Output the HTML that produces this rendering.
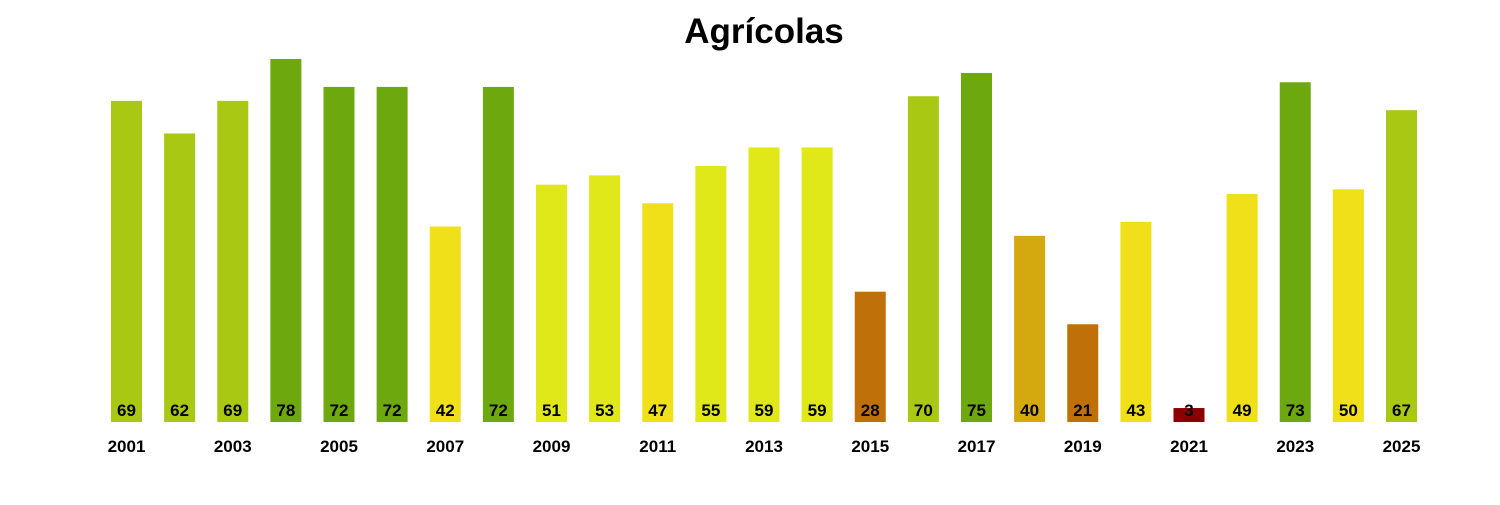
<!DOCTYPE html><html><head><style>body{margin:0;background:#fff}</style></head><body>
<svg width="1500" height="500" xmlns="http://www.w3.org/2000/svg" font-family="Liberation Sans, Arial, sans-serif" font-weight="bold">
<rect width="1500" height="500" fill="#fff"/>
<text x="764" y="43" font-size="35" text-anchor="middle">Agrícolas</text>
<g id="b"></g>
</svg>
<script>
var v=[69,62,69,78,72,72,42,72,51,53,47,55,59,59,28,70,75,40,21,43,3,49,73,50,67];
function col(x){if(x>=72)return"#6ea80f";if(x>=60)return"#a8c814";if(x>=51)return"#e0e81a";if(x>=41)return"#f0e01a";if(x>=35)return"#d4a80f";if(x>=10)return"#c07008";return"#8b0000";}
var s="";
v.forEach(function(x,i){var c=126.5+53.125*i,h=x*4.654,y=422-h;
s+='<rect x="'+(c-15.5)+'" y="'+y+'" width="31" height="'+h+'" fill="'+col(x)+'"/>';
s+='<text x="'+c+'" y="416" font-size="17" text-anchor="middle">'+x+'</text>';
if(i%2==0)s+='<text x="'+c+'" y="452" font-size="17" text-anchor="middle">'+(2001+i)+'</text>';});
document.getElementById("b").innerHTML=s;
</script>
</body></html>
